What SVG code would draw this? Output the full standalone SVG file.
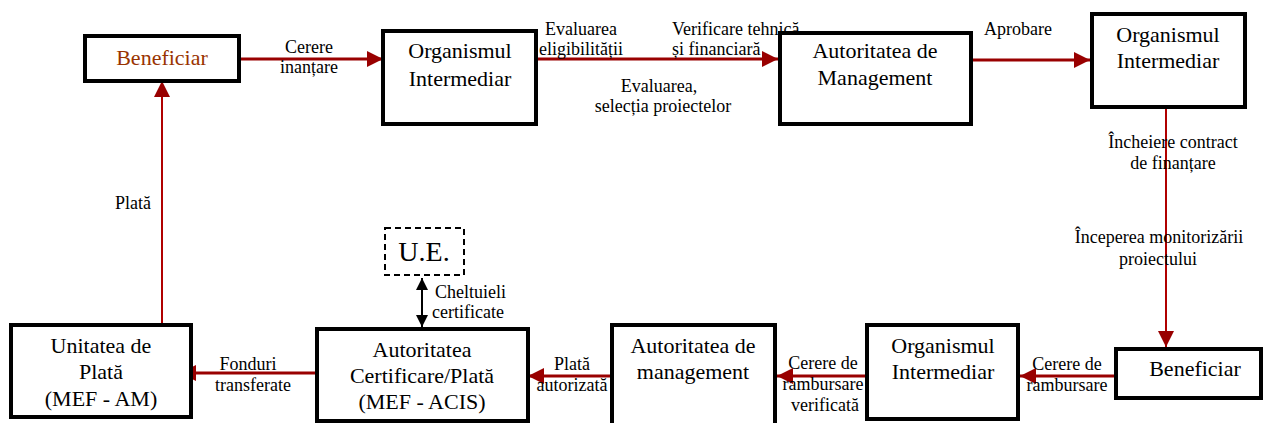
<svg xmlns="http://www.w3.org/2000/svg" width="1264" height="423" viewBox="0 0 1264 423">
<style>
.box{fill:#fff;stroke:#000;stroke-width:4}
.ue{fill:none;stroke:#000;stroke-width:2;stroke-dasharray:6 4}
.nt{font-family:"Liberation Serif","Times New Roman",serif;font-size:22px;fill:#000;text-anchor:middle}
.lb{font-family:"Liberation Serif","Times New Roman",serif;font-size:18px;fill:#000;text-anchor:middle}
.st{text-anchor:start}
.c{fill:none;stroke:#990000;stroke-width:3}
.cv{fill:none;stroke:#b00000;stroke-width:2}
.cb{fill:none;stroke:#000;stroke-width:2}
</style>
<defs>
<marker id="ah" markerUnits="userSpaceOnUse" markerWidth="16" markerHeight="16" viewBox="0 0 16 16" refX="16" refY="8" orient="auto">
<path d="M0,0 L16,8 L0,16 Z" fill="#990000"/>
</marker>
<marker id="ahb" markerUnits="userSpaceOnUse" markerWidth="12" markerHeight="12" viewBox="0 0 12 12" refX="12" refY="6" orient="auto">
<path d="M0,0 L12,6 L0,12 Z" fill="#000"/>
</marker>
<marker id="ahs" markerUnits="userSpaceOnUse" markerWidth="12" markerHeight="12" viewBox="0 0 12 12" refX="0" refY="6" orient="auto">
<path d="M12,0 L0,6 L12,12 Z" fill="#000"/>
</marker>
</defs>

<g id="connectors">
<path class="c" d="M239 59 H383" marker-end="url(#ah)"/>
<path class="c" d="M536 59 H778" marker-end="url(#ah)"/>
<path class="c" d="M971 60 H1090" marker-end="url(#ah)"/>
<path class="cv" d="M1166 107 V347" marker-end="url(#ah)"/>
<path class="c" d="M1116 376 H1020" marker-end="url(#ah)"/>
<path class="c" d="M867 376 H777" marker-end="url(#ah)"/>
<path class="c" d="M612 376 H528" marker-end="url(#ah)"/>
<path class="c" d="M317 373 H180" marker-end="url(#ah)"/>
<path class="cv" d="M162 325 V81" marker-end="url(#ah)"/>
<path class="cb" d="M422 278 V327" marker-start="url(#ahs)" marker-end="url(#ahb)"/>
</g>

<g id="beneficiar1">
<rect class="box" x="85" y="36" width="154" height="45"/>
<text class="nt" x="162" y="65" fill="#993300" style="fill:#993300">Beneficiar</text>
</g>
<g id="oi1">
<rect class="box" x="383" y="31" width="153" height="93"/>
<text class="nt" x="460" y="58">Organismul</text>
<text class="nt" x="460" y="86">Intermediar</text>
</g>
<g id="am1">
<rect class="box" x="780" y="33" width="191" height="91"/>
<text class="nt" x="875" y="58">Autoritatea de</text>
<text class="nt" x="875" y="85">Management</text>
</g>
<g id="oi2">
<rect class="box" x="1092" y="14" width="153" height="93"/>
<text class="nt" x="1168" y="42">Organismul</text>
<text class="nt" x="1168" y="68">Intermediar</text>
</g>
<g id="beneficiar2">
<rect class="box" x="1116" y="349" width="145" height="49"/>
<text class="nt" x="1195" y="376">Beneficiar</text>
</g>
<g id="oi3">
<rect class="box" x="867" y="325" width="151" height="94"/>
<text class="nt" x="943" y="353">Organismul</text>
<text class="nt" x="943" y="379">Intermediar</text>
</g>
<g id="am2">
<rect class="box" x="612" y="325" width="163" height="102"/>
<text class="nt" x="693" y="353">Autoritatea de</text>
<text class="nt" x="693" y="379">management</text>
</g>
<g id="acp">
<rect class="box" x="317" y="329" width="211" height="92"/>
<text class="nt" x="422" y="357">Autoritatea</text>
<text class="nt" x="422" y="383">Certificare/Plată</text>
<text class="nt" x="422" y="409">(MEF - ACIS)</text>
</g>
<g id="unitatea">
<rect class="box" x="11" y="325" width="180" height="92"/>
<text class="nt" x="101" y="353">Unitatea de</text>
<text class="nt" x="101" y="379">Plată</text>
<text class="nt" x="101" y="406">(MEF - AM)</text>
</g>
<g id="ue">
<rect class="ue" x="385" y="228" width="79" height="47"/>
<text class="nt" x="424" y="261" style="font-size:28px">U.E.</text>
</g>

<g id="labels">
<text class="lb" x="309" y="53">Cerere</text>
<text class="lb" x="309" y="73">inanțare</text>
<text class="lb" x="581" y="35">Evaluarea</text>
<text class="lb" x="581" y="55">eligibilității</text>
<text class="lb st" x="672" y="35">Verificare tehnică</text>
<text class="lb st" x="672" y="55">și financiară</text>
<text class="lb" x="659" y="92">Evaluarea,</text>
<text class="lb" x="663" y="112">selecția proiectelor</text>
<text class="lb" x="1018" y="35">Aprobare</text>
<text class="lb" x="1173" y="148">Încheiere contract</text>
<text class="lb" x="1173" y="169">de finanțare</text>
<text class="lb" x="1159" y="243">Începerea monitorizării</text>
<text class="lb" x="1158" y="265">proiectului</text>
<text class="lb" x="1067" y="370">Cerere  de</text>
<text class="lb" x="1067" y="391">rambursare</text>
<text class="lb" x="823" y="369">Cerere de</text>
<text class="lb" x="823" y="390">rambursare</text>
<text class="lb" x="825" y="411">verificată</text>
<text class="lb" x="572" y="370">Plată</text>
<text class="lb" x="572" y="391">autorizată</text>
<text class="lb" x="248" y="370">Fonduri</text>
<text class="lb" x="253" y="391">transferate</text>
<text class="lb st" x="435" y="298">Cheltuieli</text>
<text class="lb st" x="432" y="318">certificate</text>
<text class="lb" x="133" y="209">Plată</text>
</g>
</svg>
